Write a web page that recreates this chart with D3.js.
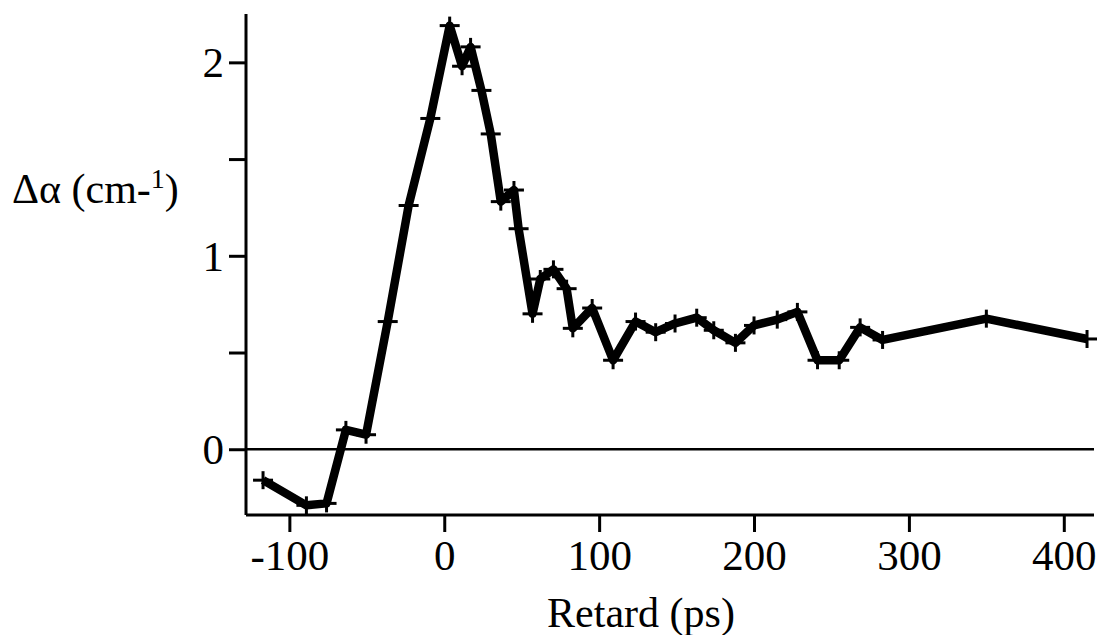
<!DOCTYPE html>
<html>
<head>
<meta charset="utf-8">
<script src="https://d3js.org/d3.v7.min.js"></script>
<style>
  body { margin: 0; background: #fff; }
  svg { display: block; font-family: "Liberation Serif", "Times New Roman", serif; }
</style>
</head>
<body>
<script>
// ---- data ----
var delay = [-117, -89, -76, -63.5, -50.5, -36.5, -23, -9, 3.5, 11.5, 17, 24, 30, 36.5, 45, 48,
             57, 62, 70.5, 79, 83, 95.5, 109, 123.5, 136.5, 149, 163, 174, 188, 200, 215, 228,
             241, 255, 268.5, 283, 350, 415];
var dAlpha = [-0.16, -0.29, -0.28, 0.10, 0.075, 0.66, 1.26, 1.71, 2.19, 1.98, 2.08, 1.855, 1.63, 1.28, 1.34, 1.14,
              0.70, 0.88, 0.93, 0.83, 0.625, 0.73, 0.46, 0.66, 0.605, 0.65, 0.68, 0.615, 0.55, 0.64, 0.67, 0.71,
              0.46, 0.46, 0.63, 0.565, 0.675, 0.57];
var xTicks = [-100, 0, 100, 200, 300, 400];
var yTicks = [0, 1, 2];
var yMinor = [0.5, 1.5];

var W = 1102, H = 635;
var svg = d3.select("body").append("svg").attr("width", W).attr("height", H);

var x = d3.scaleLinear().domain([-128, 419.5]).range([246, 1094]);
var y = d3.scaleLinear().domain([-0.34, 2.25]).range([515, 14]);

var pts = delay.map(function(d, i) { return [d, dAlpha[i]]; });

// zero line
svg.append("line")
  .attr("x1", x.range()[0]).attr("x2", x.range()[1])
  .attr("y1", y(0)).attr("y2", y(0))
  .attr("stroke", "#000").attr("stroke-width", 2.5);

// y axis
var yAxis = svg.append("g")
  .attr("transform", "translate(" + x.range()[0] + ",0)")
  .call(d3.axisLeft(y).tickValues(yTicks).tickSize(17).tickPadding(5).tickFormat(function(d) { return String(d); }));
svg.append("g")
  .attr("transform", "translate(" + x.range()[0] + ",0)")
  .call(d3.axisLeft(y).tickValues(yMinor).tickSize(17).tickFormat(""))
  .select(".domain").remove();

// x axis
var xAxis = svg.append("g")
  .attr("transform", "translate(0," + y.range()[0] + ")")
  .call(d3.axisBottom(x).tickValues(xTicks).tickSize(17).tickPadding(8).tickFormat(function(d) { return String(d); }));

svg.selectAll(".domain").attr("stroke-width", 3);
yAxis.select(".domain").attr("d", "M0," + y.range()[1] + "V" + y.range()[0] + "H0");
xAxis.select(".domain").attr("d", "M" + x.range()[0] + ",0H" + x.range()[1]);
svg.selectAll(".tick line").attr("stroke-width", 3);
svg.selectAll(".tick text")
  .attr("font-family", "Liberation Serif, serif")
  .attr("font-size", 43)
  .attr("fill", "#000");
yAxis.selectAll(".tick text").attr("dy", "0.34em");
xAxis.selectAll(".tick text").attr("dy", "0.7em");

// data line
svg.append("path")
  .datum(pts)
  .attr("fill", "none")
  .attr("stroke", "#000")
  .attr("stroke-width", 8.5)
  .attr("stroke-linejoin", "round")
  .attr("d", d3.line().x(function(d) { return x(d[0]); }).y(function(d) { return y(d[1]); }));

// cross markers
var mk = svg.append("g").selectAll("g").data(pts).enter().append("g")
  .attr("transform", function(d) { return "translate(" + x(d[0]) + "," + y(d[1]) + ")"; });
mk.append("line").attr("x1", -10).attr("x2", 10).attr("y1", 0).attr("y2", 0)
  .attr("stroke", "#000").attr("stroke-width", 3);
mk.append("line").attr("x1", 0).attr("x2", 0).attr("y1", -9).attr("y2", 9)
  .attr("stroke", "#000").attr("stroke-width", 3);

// axis titles
svg.append("text")
  .attr("x", 641).attr("y", 627)
  .attr("text-anchor", "middle")
  .attr("font-size", 42)
  .text("Retard (ps)");

var yl = svg.append("text")
  .attr("x", 12).attr("y", 203)
  .attr("font-size", 42);
yl.append("tspan").text("\u0394\u03b1 (cm-");
yl.append("tspan").attr("dy", -15).attr("font-size", 28).text("1");
yl.append("tspan").attr("dy", 15).text(")");
</script>
</body>
</html>
